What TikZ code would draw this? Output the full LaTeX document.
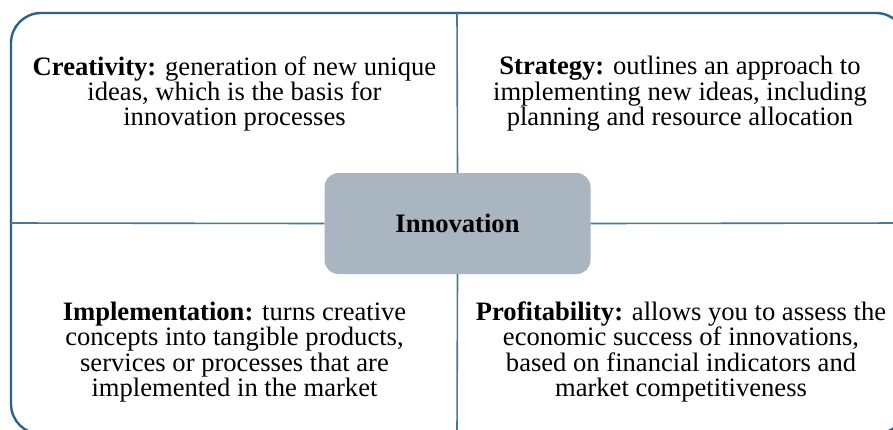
\documentclass[tikz,border=0pt]{standalone}
\usepackage{fontspec}
\setmainfont{Liberation Serif}
\definecolor{frameblue}{RGB}{44,100,135}
\definecolor{lineblue}{RGB}{72,122,152}
\definecolor{corefill}{RGB}{170,181,194}
\tikzset{
  quadtext/.style={align=center, font=\fontsize{26.6}{25.4}\selectfont, inner sep=0pt},
  corebox/.style={draw=none, fill=corefill, rounded corners=14pt, minimum width=266pt,
    minimum height=101pt, font=\fontsize{26.6}{25}\selectfont\bfseries},
  divider/.style={draw=lineblue, line width=1.6pt},
}
\begin{document}
\begin{tikzpicture}[x=1pt,y=-1pt]
  \useasboundingbox (0,0) rectangle (893,429);
  \clip (0,0) rectangle (893,429);
  \fill[white] (0,0) rectangle (893,429);
  % outer frame, running past the right and bottom edges
  \draw[frameblue, line width=2.4pt, rounded corners=30pt] (11,13) rectangle (906,434);
  % anchor points on the frame for the dividers
  \coordinate (ftop) at (457,13);
  \coordinate (fbot) at (457,434);
  \coordinate (fleft) at (11,223);
  \coordinate (fright) at (906,223);
  % central box
  \node[corebox] (core) at (457.5,223.5) {Innovation};
  \draw[divider] (ftop) -- (core.north);
  \draw[divider] (core.south) -- (fbot);
  \draw[divider] (fleft) -- (core.west);
  \draw[divider] (core.east) -- (fright);
  % quadrant texts
  \node[quadtext] (creat) at (234.5,94) {\textbf{Creativity:} generation of new unique\\ideas, which is the basis for\\innovation processes};
  \node[quadtext] (strat) at (680,94) {\textbf{Strategy:} outlines an approach to\\implementing new ideas, including\\planning and resource allocation};
  \node[quadtext] (impl) at (234.5,352) {\textbf{Implementation:} turns creative\\concepts into tangible products,\\services or processes that are\\implemented in the market};
  \node[quadtext] (prof) at (681,352) {\textbf{Profitability:} allows you to assess the\\economic success of innovations,\\based on financial indicators and\\market competitiveness};
\end{tikzpicture}
\end{document}
